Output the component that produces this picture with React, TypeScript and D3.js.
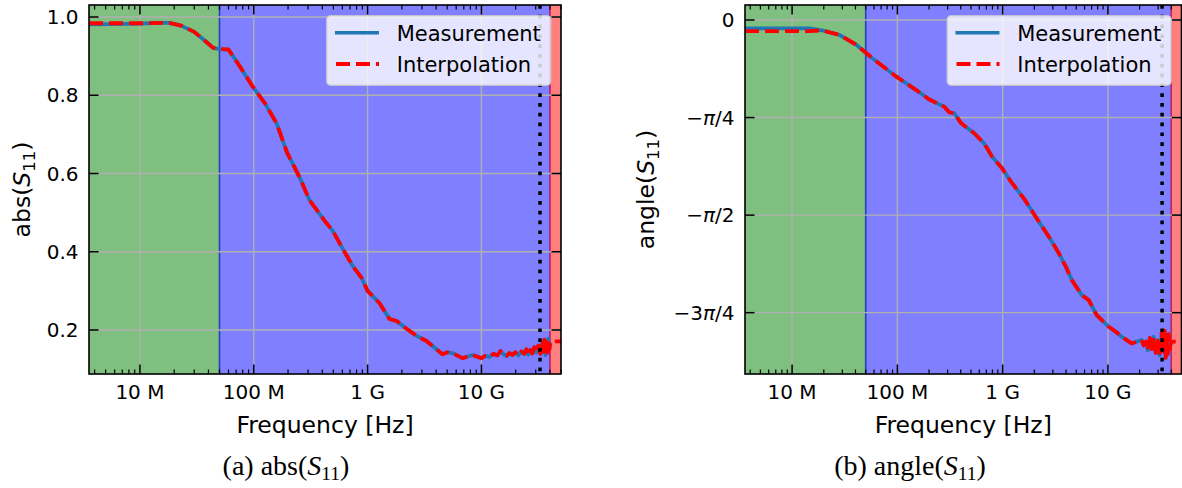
import React from 'react';
import * as d3 from 'd3';

// ---------- data ----------
const F_MIN = 3.57e6;
const F_MAX = 5.0e10;
const SPAN_GREEN = [1.0e6, 5.0e7];
const SPAN_BLUE = [5.0e7, 4.0e10];
const SPAN_RED = [4.0e10, 1.0e11];
const CUTOFF_F = 3.27e10;

const X_MAJOR = [1e7, 1e8, 1e9, 1e10];
const X_LABELS = ['10 M', '100 M', '1 G', '10 G'];

const ABS_TICKS = [0.2, 0.4, 0.6, 0.8, 1.0];
const ABS_LABELS = ['0.2', '0.4', '0.6', '0.8', '1.0'];
const ANG_TICKS = [0, -Math.PI / 4, -Math.PI / 2, (-3 * Math.PI) / 4];
const ANG_LABELS = ['0', '−π/4', '−π/2', '−3π/4'];

const LEGEND_LABELS = ['Measurement', 'Interpolation'];

// abs(S11) measurement
const F_ABS = [
  3.57e6, 5.5e6, 1.0e7, 1.5e7, 1.8e7, 2.3e7, 3.0e7, 3.7e7, 4.4e7, 5.0e7, 6.0e7, 7.5e7, 9.8e7,
  1.25e8, 1.59e8, 1.95e8, 2.53e8, 3.1e8, 4.2e8, 4.93e8, 6.04e8, 7.39e8, 8.86e8, 1.0e9, 1.27e9,
  1.56e9, 1.8e9, 2.2e9, 2.69e9, 3.29e9, 3.72e9, 4.55e9, 5.04e9, 5.57e9, 6.81e9, 8.34e9,
  1.0e10, 1.08e10, 1.175e10, 1.27e10, 1.38e10, 1.47e10, 1.56e10, 1.66e10, 1.76e10, 1.87e10,
  1.99e10, 2.11e10, 2.24e10, 2.38e10, 2.48e10, 2.58e10, 2.69e10, 2.8e10, 2.92e10, 3.03e10,
  3.16e10, 3.29e10, 3.43e10, 3.5e10, 3.57e10, 3.64e10, 3.72e10, 3.79e10, 3.87e10, 3.95e10, 4.03e10,
];
const ABS_MEAS = [
  0.981, 0.982, 0.983, 0.985, 0.985, 0.978, 0.962, 0.94, 0.921, 0.918, 0.917, 0.875, 0.822,
  0.78, 0.728, 0.655, 0.59, 0.531, 0.479, 0.454, 0.408, 0.364, 0.333, 0.3, 0.269,
  0.228, 0.223, 0.203, 0.185, 0.172, 0.159, 0.138, 0.143, 0.141, 0.128, 0.136,
  0.128, 0.134, 0.131, 0.139, 0.135, 0.146, 0.138, 0.134, 0.141, 0.136,
  0.143, 0.135, 0.145, 0.139, 0.151, 0.137, 0.149, 0.14, 0.156, 0.142,
  0.16, 0.139, 0.165, 0.145, 0.175, 0.136, 0.17, 0.142, 0.178, 0.15, 0.168,
];
const ABS_INTERP_LOW_F = [3.57e6, 1.0e7, 1.8e7];
const ABS_INTERP_LOW_V = [0.984, 0.984, 0.985];
const ABS_INTERP_EXT_F = [4.1e10, 5.0e10];
const ABS_INTERP_EXT_V = [0.171, 0.171];

// angle(S11) measurement (rad)
const F_ANG = [
  3.57e6, 6.15e6, 1.0e7, 1.47e7, 1.91e7, 2.83e7, 4.1e7, 5.81e7, 9.78e7, 1.51e8, 2.01e8, 2.79e8,
  3.11e8, 3.47e8, 4.04e8, 5.37e8, 6.67e8, 7.94e8, 9.88e8, 1.2e9, 1.6e9, 2.21e9, 2.75e9, 3.42e9,
  3.98e9, 4.54e9, 5.65e9, 6.58e9, 7.83e9, 1.02e10, 1.19e10, 1.35e10, 1.68e10, 2.09e10,
  2.19e10, 2.29e10, 2.39e10, 2.5e10, 2.61e10, 2.72e10, 2.85e10, 2.97e10, 3.1e10, 3.24e10,
  3.39e10, 3.46e10, 3.54e10, 3.62e10, 3.7e10, 3.78e10, 3.86e10, 3.95e10,
];
const ANG_MEAS = [
  -0.067, -0.067, -0.067, -0.068, -0.083, -0.121, -0.201, -0.309, -0.456, -0.564, -0.64, -0.698,
  -0.743, -0.751, -0.832, -0.912, -0.993, -1.1, -1.194, -1.301, -1.44, -1.624, -1.745, -1.878,
  -1.985, -2.094, -2.215, -2.255, -2.376, -2.47, -2.51, -2.55, -2.604, -2.577,
  -2.62, -2.59, -2.66, -2.56, -2.65, -2.55, -2.68, -2.58, -2.7, -2.52,
  -2.67, -2.5, -2.72, -2.55, -2.69, -2.53, -2.65, -2.6,
];
const ANG_INTERP_LOW_F = [3.57e6, 1.0e7, 1.47e7];
const ANG_INTERP_LOW_V = [-0.089, -0.089, -0.089];
const ANG_INTERP_EXT_F = [4.1e10, 5.0e10];
const ANG_INTERP_EXT_V = [-2.59, -2.59];

// ---------- styles ----------
const FONT = 'DejaVu Sans';
const C_MEAS = '#1f77b4';
const C_INTERP = '#ff0000';
const GRID = '#b0b0b0';

type Pt = [number, number];
const zip = (a: number[], b: number[]): Pt[] => a.map((v, i) => [v, b[i]] as Pt);

function PiLabel({ text }: { text: string }) {
  const parts = text.split('π');
  if (parts.length === 1) return <>{text}</>;
  return (
    <>
      {parts[0]}
      <tspan fontStyle="italic">π</tspan>
      {parts[1]}
    </>
  );
}

interface PanelProps {
  id: string;
  box: { left: number; right: number; top: number; bottom: number };
  yDomain: [number, number];
  yTicks: number[];
  yLabels: string[];
  ylabelName: string;
  ylabelX: number;
  meas: Pt[];
  interp: Pt[];
}

function Panel({ id, box, yDomain, yTicks, yLabels, ylabelName, ylabelX, meas, interp }: PanelProps) {
  const x = d3.scaleLog().domain([F_MIN, F_MAX]).range([box.left, box.right]);
  const y = d3.scaleLinear().domain(yDomain).range([box.bottom, box.top]);
  const line = d3
    .line<Pt>()
    .x((d) => x(d[0]))
    .y((d) => y(d[1]));
  const minor = x.ticks().filter((t) => !X_MAJOR.some((m) => Math.abs(m - t) / m < 1e-6));
  const H = box.bottom - box.top;
  const W = box.right - box.left;
  const majLen = 9.5;
  const minLen = 4.5;
  const spanRect = (s: number[], rgb: string) => (
    <rect
      x={x(s[0])}
      y={box.top - 5}
      width={x(s[1]) - x(s[0])}
      height={H + 10}
      fill={`rgba(${rgb},0.5)`}
      stroke={`rgba(${rgb},0.5)`}
      strokeWidth={1.5}
    />
  );
  const lg = { right: box.right - 10.3, top: box.top + 10.7, w: 224, h: 69.5 };
  const lgLeft = lg.right - lg.w;
  const cx = (box.left + box.right) / 2;
  const cy = (box.top + box.bottom) / 2;
  return (
    <g>
      <defs>
        <clipPath id={`clip-${id}`}>
          <rect x={box.left} y={box.top} width={W} height={H} />
        </clipPath>
      </defs>
      <g clipPath={`url(#clip-${id})`}>
        {spanRect(SPAN_GREEN, '0,128,0')}
        {spanRect(SPAN_BLUE, '0,0,255')}
        {spanRect(SPAN_RED, '255,0,0')}
        {X_MAJOR.map((t) => (
          <line key={'gx' + t} x1={x(t)} x2={x(t)} y1={box.top} y2={box.bottom} stroke={GRID} strokeWidth={1.4} />
        ))}
        {yTicks.map((t) => (
          <line key={'gy' + t} x1={box.left} x2={box.right} y1={y(t)} y2={y(t)} stroke={GRID} strokeWidth={1.4} />
        ))}
        <path d={line(meas) || ''} fill="none" stroke={C_MEAS} strokeWidth={3.7} strokeLinejoin="round" />
        <path
          d={line(interp) || ''}
          fill="none"
          stroke={C_INTERP}
          strokeWidth={3.8}
          strokeDasharray="14,6"
          strokeLinejoin="round"
        />
        <line
          x1={x(CUTOFF_F)}
          x2={x(CUTOFF_F)}
          y1={box.top}
          y2={box.bottom}
          stroke="#000"
          strokeWidth={3.5}
          strokeDasharray="3.7,6.1"
        />
      </g>
      {/* ticks */}
      <g stroke="#000">
        {X_MAJOR.map((t) => (
          <g key={'tx' + t}>
            <line x1={x(t)} x2={x(t)} y1={box.bottom} y2={box.bottom - majLen} strokeWidth={1.5} />
            <line x1={x(t)} x2={x(t)} y1={box.top} y2={box.top + majLen} strokeWidth={1.5} />
          </g>
        ))}
        {minor.map((t) => (
          <g key={'mx' + t}>
            <line x1={x(t)} x2={x(t)} y1={box.bottom} y2={box.bottom - minLen} strokeWidth={1.2} />
            <line x1={x(t)} x2={x(t)} y1={box.top} y2={box.top + minLen} strokeWidth={1.2} />
          </g>
        ))}
        {yTicks.map((t) => (
          <g key={'ty' + t}>
            <line x1={box.left} x2={box.left + majLen} y1={y(t)} y2={y(t)} strokeWidth={1.5} />
            <line x1={box.right} x2={box.right - majLen} y1={y(t)} y2={y(t)} strokeWidth={1.5} />
          </g>
        ))}
      </g>
      <rect x={box.left} y={box.top} width={W} height={H} fill="none" stroke="#000" strokeWidth={1.6} />
      {/* tick labels */}
      <g fontFamily={FONT} fontSize={20} fill="#000">
        {X_MAJOR.map((t, i) => (
          <text key={'lx' + t} x={x(t)} y={box.bottom + 25} textAnchor="middle">
            {X_LABELS[i]}
          </text>
        ))}
        {yTicks.map((t, i) => (
          <text key={'ly' + t} x={box.left - 10.5} y={y(t) + 7.2} textAnchor="end">
            <PiLabel text={yLabels[i]} />
          </text>
        ))}
      </g>
      {/* axis labels */}
      <text x={cx} y={box.bottom + 59} textAnchor="middle" fontFamily={FONT} fontSize={23.5}>
        Frequency [Hz]
      </text>
      <text
        transform={`translate(${ylabelX},${cy}) rotate(-90)`}
        textAnchor="middle"
        fontFamily={FONT}
        fontSize={23.5}
      >
        {ylabelName}(<tspan fontStyle="italic">S</tspan>
        <tspan fontSize={16.5} dy={4.5}>
          11
        </tspan>
        <tspan dy={-4.5}>)</tspan>
      </text>
      {/* legend */}
      <g>
        <rect
          x={lgLeft}
          y={lg.top}
          width={lg.w}
          height={lg.h}
          rx={4}
          fill="rgba(255,255,255,0.8)"
          stroke="rgba(204,204,204,0.8)"
          strokeWidth={1.5}
        />
        <line
          x1={lgLeft + 10}
          x2={lgLeft + 50.5}
          y1={lg.top + 17}
          y2={lg.top + 17}
          stroke={C_MEAS}
          strokeWidth={3.5}
          strokeLinecap="square"
        />
        <line
          x1={lgLeft + 9.3}
          x2={lgLeft + 52.3}
          y1={lg.top + 48.3}
          y2={lg.top + 48.3}
          stroke={C_INTERP}
          strokeWidth={3.8}
          strokeDasharray="14,6"
        />
        <text x={lgLeft + 70} y={lg.top + 25.3} fontFamily={FONT} fontSize={21}>
          {LEGEND_LABELS[0]}
        </text>
        <text x={lgLeft + 70} y={lg.top + 56} fontFamily={FONT} fontSize={21}>
          {LEGEND_LABELS[1]}
        </text>
      </g>
    </g>
  );
}

function Caption({ x, y, label, name }: { x: number; y: number; label: string; name: string }) {
  return (
    <text x={x} y={y} textAnchor="middle" fontFamily="Liberation Serif" fontSize={28}>
      ({label}) {name}(<tspan fontStyle="italic">S</tspan>
      <tspan fontSize={19.5} dy={4.5}>
        11
      </tspan>
      <tspan dy={-4.5}>)</tspan>
    </text>
  );
}

export default function App() {
  const absMeas = zip(F_ABS, ABS_MEAS);
  const absInterp: Pt[] = [
    ...zip(ABS_INTERP_LOW_F, ABS_INTERP_LOW_V),
    ...absMeas.filter((d) => d[0] >= 2.3e7),
    ...zip(ABS_INTERP_EXT_F, ABS_INTERP_EXT_V),
  ];
  const angMeas = zip(F_ANG, ANG_MEAS);
  const angInterp: Pt[] = [
    ...zip(ANG_INTERP_LOW_F, ANG_INTERP_LOW_V),
    ...angMeas.filter((d) => d[0] >= 1.91e7),
    ...zip(ANG_INTERP_EXT_F, ANG_INTERP_EXT_V),
  ];
  return (
    <div style={{ position: 'absolute', left: 0, top: 0 }}>
      <svg width={1182} height={488} style={{ display: 'block', background: '#fff' }}>
        <Panel
          id="abs"
          box={{ left: 89, right: 561, top: 5, bottom: 374 }}
          yDomain={[0.0875, 1.0307]}
          yTicks={ABS_TICKS}
          yLabels={ABS_LABELS}
          ylabelName="abs"
          ylabelX={30}
          meas={absMeas}
          interp={absInterp}
        />
        <Panel
          id="ang"
          box={{ left: 745, right: 1181.5, top: 5, bottom: 374 }}
          yDomain={[-2.85, 0.1208]}
          yTicks={ANG_TICKS}
          yLabels={ANG_LABELS}
          ylabelName="angle"
          ylabelX={654}
          meas={angMeas}
          interp={angInterp}
        />
        <Caption x={286} y={475} label="a" name="abs" />
        <Caption x={910} y={475} label="b" name="angle" />
      </svg>
    </div>
  );
}
